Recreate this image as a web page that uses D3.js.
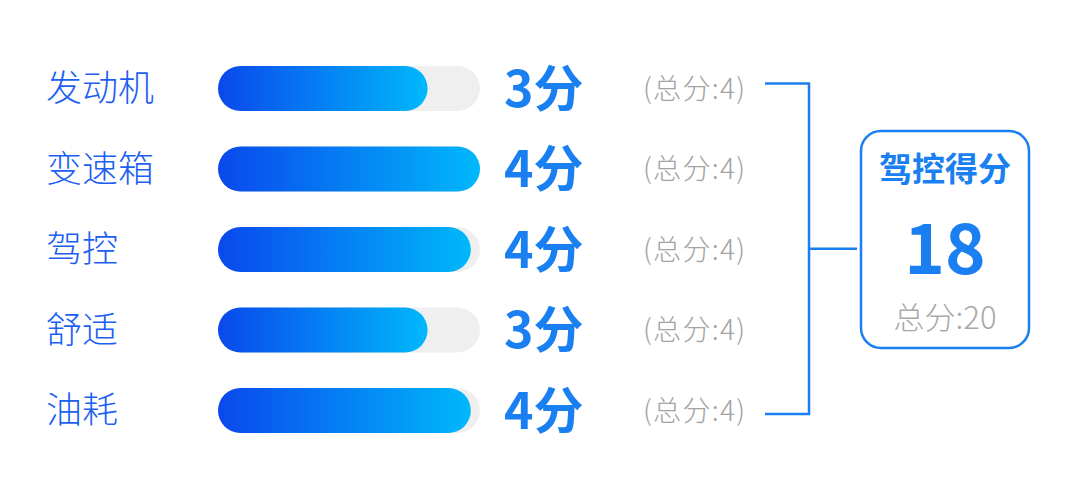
<!DOCTYPE html>
<head>
  <meta charset="utf-8">
  <title>驾控得分</title>
  <script src="https://d3js.org/d3.v7.min.js"></script>
  <style>
    body { margin: 0; background: #fff; }
    text { font-family: "Noto Sans CJK SC", "Noto Sans", sans-serif; }
  </style>
</head>
<body>
  <script>
    var categories = ['发动机', '变速箱', '驾控', '舒适', '油耗'];
    var scores = [3, 4, 4, 3, 4];
    var maxScores = [4, 4, 4, 4, 4];
    // bar fill as drawn in the picture (percent of the track)
    var barPct = [80, 100, 96.5, 80, 96.5];
    var summaryTitle = '驾控得分';
    var totalScore = 18;
    var totalMax = 20;

    var width = 1080, height = 488;
    var blue = '#1a7ff0';

    var svg = d3.select('body').append('svg')
      .attr('width', width).attr('height', height);

    var defs = svg.append('defs');
    var grad = defs.append('linearGradient').attr('id', 'barGrad')
      .attr('x1', '0%').attr('x2', '100%').attr('y1', '0%').attr('y2', '0%');
    grad.append('stop').attr('offset', '0%').attr('stop-color', '#0a48ec');
    grad.append('stop').attr('offset', '100%').attr('stop-color', '#00b8fb');

    var yscale = d3.scalePoint()
      .domain(categories)
      .range([88.5, 410.5]);

    var barH = 45;
    var xscale = d3.scaleLinear()
      .domain([0, 100])
      .range([0, 262]);
    var barX = 218;

    var rows = svg.selectAll('g.row')
      .data(categories)
      .enter()
      .append('g')
      .attr('class', 'row')
      .attr('transform', function(d) { return 'translate(0,' + yscale(d) + ')'; });

    rows.append('text')
      .attr('x', 46)
      .attr('dy', '0.35em')
      .attr('font-size', 36)
      .attr('font-weight', 300)
      .attr('fill', '#1d5ff0')
      .text(function(d) { return d; });

    rows.append('rect')
      .attr('x', barX)
      .attr('y', -barH / 2)
      .attr('width', xscale(100))
      .attr('height', barH)
      .attr('rx', barH / 2)
      .attr('fill', '#efefef');

    rows.append('rect')
      .attr('x', barX)
      .attr('y', -barH / 2)
      .attr('width', function(d, i) { return xscale(barPct[i]); })
      .attr('height', barH)
      .attr('rx', barH / 2)
      .attr('fill', 'url(#barGrad)');

    rows.append('text')
      .attr('x', 504)
      .attr('dy', '0.36em')
      .attr('font-size', 50)
      .attr('font-weight', 'bold')
      .attr('fill', blue)
      .text(function(d, i) { return scores[i] + '分'; });

    rows.append('text')
      .attr('x', 643)
      .attr('dy', '0.36em')
      .attr('font-size', 28)
      .attr('font-weight', 300)
      .attr('letter-spacing', 1.3)
      .attr('fill', '#a3a3a3')
      .text(function(d, i) { return '(总分:' + maxScores[i] + ')'; });

    // bracket
    var yTop = yscale(categories[0]) - 5;
    var yBot = yscale(categories[categories.length - 1]) + 3.5;
    var yMid = (yTop + yBot) / 2;
    var bx = 809;
    svg.append('path')
      .attr('d', 'M765,' + yTop + 'H' + bx + 'V' + yBot + 'H765M' + bx + ',' + yMid + 'H857')
      .attr('fill', 'none')
      .attr('stroke', blue)
      .attr('stroke-width', 2.5);

    // summary box
    var box = svg.append('g').attr('transform', 'translate(945,0)');
    box.append('rect')
      .attr('x', -84).attr('y', 131)
      .attr('width', 168).attr('height', 217)
      .attr('rx', 20)
      .attr('fill', '#fff')
      .attr('stroke', blue)
      .attr('stroke-width', 2.5);
    box.append('text')
      .attr('text-anchor', 'middle')
      .attr('y', 169).attr('dy', '0.36em')
      .attr('font-size', 33).attr('font-weight', 'bold')
      .attr('fill', blue)
      .text(summaryTitle);
    box.append('text')
      .attr('text-anchor', 'middle')
      .attr('y', 274)
      .attr('font-size', 69).attr('font-weight', 'bold')
      .attr('fill', blue)
      .text(totalScore);
    box.append('text')
      .attr('text-anchor', 'middle')
      .attr('y', 318).attr('dy', '0.36em')
      .attr('font-size', 31)
      .attr('font-weight', 300)
      .attr('fill', '#a8a8a8')
      .text('总分:' + totalMax);
  </script>
</body>
